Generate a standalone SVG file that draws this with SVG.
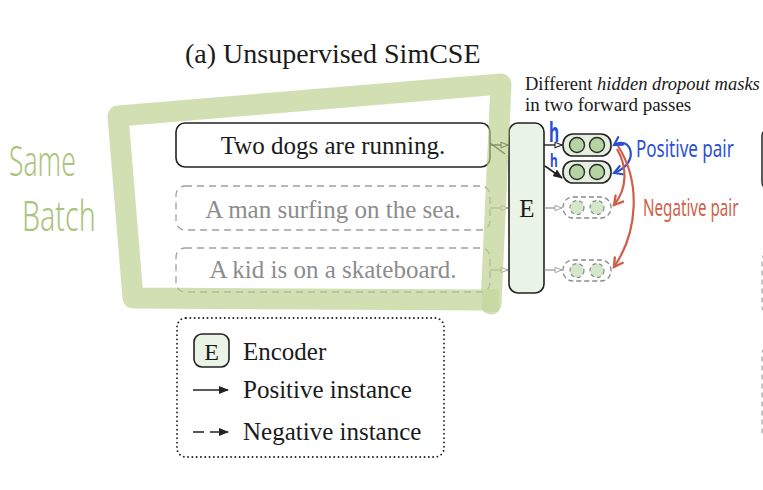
<svg xmlns="http://www.w3.org/2000/svg" width="763" height="490" viewBox="0 0 763 490">
<style>
.serif{font-family:"Liberation Serif","Times New Roman",serif}
.box{fill:#fff;stroke:#222;stroke-width:1.6}
.dbox{fill:#fff;stroke:#a0a0a0;stroke-width:1.3;stroke-dasharray:7 5}
.t{font-size:25px;fill:#1a1a1a;text-anchor:middle}
.g{font-size:25px;fill:#8c8c8c;text-anchor:middle}
.enc{fill:#e9f3e6;stroke:#222;stroke-width:1.6}
.pill{fill:#e3eedf;stroke:#222;stroke-width:1.6}
.dpill{fill:#fff;stroke:#8a8a8a;stroke-width:1.3;stroke-dasharray:5 3}
.dot{fill:#b4d4a3;stroke:#2a2a2a;stroke-width:1.4}
.ddot{fill:#d3e7ca;stroke:#8a8a8a;stroke-width:1.2;stroke-dasharray:4 3}
.hl{fill:none;stroke:#b8ce8a;stroke-opacity:0.65;stroke-linecap:round;stroke-linejoin:round}
.hand{font-family:"Noto Sans","DejaVu Sans",sans-serif}
</style>
<defs>
<marker id="hb" viewBox="0 0 10 8" refX="9" refY="4" markerWidth="9" markerHeight="7" markerUnits="userSpaceOnUse" orient="auto"><path d="M1 1 L9 4 L1 7 Z" fill="#fff" stroke="#222" stroke-width="1.2"/></marker>
<marker id="hg" viewBox="0 0 10 8" refX="9" refY="4" markerWidth="9" markerHeight="7" markerUnits="userSpaceOnUse" orient="auto"><path d="M1 1 L9 4 L1 7 Z" fill="#fff" stroke="#999" stroke-width="1"/></marker>
<marker id="fb" viewBox="0 0 10 8" refX="9" refY="4" markerWidth="10" markerHeight="8" markerUnits="userSpaceOnUse" orient="auto"><path d="M0 0 L10 4 L0 8 Z" fill="#222"/></marker>
<marker id="vb" viewBox="0 0 10 10" refX="8" refY="5" markerWidth="11" markerHeight="11" markerUnits="userSpaceOnUse" orient="auto-start-reverse"><path d="M1 1 L8 5 L1 9" fill="none" stroke="#2a4fd6" stroke-width="2" stroke-linecap="round"/></marker>
<marker id="vr" viewBox="0 0 10 10" refX="8" refY="5" markerWidth="12" markerHeight="12" markerUnits="userSpaceOnUse" orient="auto"><path d="M1 1 L8 5 L1 9" fill="none" stroke="#cf5f4a" stroke-width="2" stroke-linecap="round"/></marker>
</defs>

<text class="serif" x="185" y="63" font-size="28" fill="#1a1a1a">(a) Unsupervised SimCSE</text>

<text class="serif" x="525" y="89.5" font-size="18.5" fill="#1a1a1a">Different <tspan font-style="italic">hidden dropout masks</tspan></text>
<text class="serif" x="525" y="110.5" font-size="19" fill="#1a1a1a">in two forward passes</text>

<g id="s1"><rect class="box" x="176" y="123" width="314" height="44" rx="9"/><text class="serif t" x="333" y="154">Two dogs are running.</text></g>
<g id="s2"><rect class="dbox" x="176" y="186" width="314" height="44" rx="9"/><text class="serif g" x="333" y="218">A man surfing on the sea.</text></g>
<g id="s3"><rect class="dbox" x="176" y="248" width="314" height="44" rx="9"/><text class="serif g" x="333" y="278">A kid is on a skateboard.</text></g>

<g id="encoder"><rect class="enc" x="509" y="123" width="35" height="170" rx="9"/><text class="serif" x="527" y="217" font-size="25" fill="#1a1a1a" text-anchor="middle">E</text></g>

<g id="h1"><rect class="pill" x="563" y="134" width="48" height="22" rx="10"/><circle class="dot" cx="577" cy="145" r="7.5"/><circle class="dot" cx="597" cy="145" r="7.5"/></g>
<g id="h2"><rect class="pill" x="563" y="161" width="48" height="22" rx="10"/><circle class="dot" cx="577" cy="172" r="7.5"/><circle class="dot" cx="597" cy="172" r="7.5"/></g>
<g id="h3"><rect class="dpill" x="563" y="197" width="48" height="21" rx="10"/><circle class="ddot" cx="577" cy="207.5" r="7"/><circle class="ddot" cx="597" cy="207.5" r="7"/></g>
<g id="h4"><rect class="dpill" x="563" y="260" width="48" height="21" rx="10"/><circle class="ddot" cx="577" cy="270.5" r="7"/><circle class="ddot" cx="597" cy="270.5" r="7"/></g>

<g id="connectors">
<line x1="490" y1="145" x2="508" y2="145" stroke="#222" stroke-width="1.4" marker-end="url(#hb)"/>
<line x1="490" y1="143" x2="505" y2="154" stroke="#222" stroke-width="1.4"/>
<line x1="490" y1="208" x2="508" y2="208" stroke="#999" stroke-width="1" marker-end="url(#hg)"/>
<line x1="490" y1="270" x2="508" y2="270" stroke="#999" stroke-width="1" marker-end="url(#hg)"/>
<line x1="544" y1="145" x2="562" y2="145" stroke="#222" stroke-width="1.4" marker-end="url(#hb)"/>
<line x1="545" y1="166" x2="562" y2="178" stroke="#222" stroke-width="1.6" marker-end="url(#fb)"/>
<line x1="544" y1="208" x2="562" y2="208" stroke="#888" stroke-width="1.1" marker-end="url(#hg)"/>
<line x1="544" y1="270" x2="562" y2="270" stroke="#888" stroke-width="1.1" marker-end="url(#hg)"/>
<path d="M614 145 C630 135, 642 162, 614 173" fill="none" stroke="#2a4fd6" stroke-width="2.2" marker-start="url(#vb)" marker-end="url(#vb)"/>
<path d="M617 149 C627 166, 628 188, 614 205" fill="none" stroke="#cf5f4a" stroke-width="2.2" marker-end="url(#vr)"/>
<path d="M618 146 C641 182, 638 232, 614 267" fill="none" stroke="#cf5f4a" stroke-width="2.2" marker-end="url(#vr)"/>
</g>

<g id="annotations">
<text class="hand" transform="translate(549,142) scale(0.6,1)" font-size="26" font-weight="700" fill="#2a4fd6">h</text>
<text class="hand" transform="translate(550,167) scale(0.7,1)" font-size="17" font-weight="700" fill="#2a4fd6">h</text>
<text class="hand" transform="translate(636,157) scale(0.74,1)" font-size="23" fill="#2a4fd6">Positive pair</text>
<text class="hand" transform="translate(643,216) scale(0.66,1)" font-size="23" fill="#cf5f4a">Negative pair</text>
<text class="hand" transform="translate(9,176) scale(0.66,1.05)" font-size="40" font-weight="300" fill="#a9c47b">Same</text>
<text class="hand" transform="translate(22,231) scale(0.68,1)" font-size="42" font-weight="300" fill="#a9c47b">Batch</text>
</g>

<g id="batch-highlight">
<path class="hl" d="M491 304 L501 84 L118 116 L133 298 L490 300" stroke-width="21"/>
<rect x="482" y="289" width="17" height="23" rx="3" fill="#b8ce8a" fill-opacity="0.35"/>
</g>

<g id="legend">
<rect x="177" y="318" width="267" height="139" rx="9" fill="none" stroke="#222" stroke-width="1.8" stroke-dasharray="0.1 4.2" stroke-linecap="round"/>
<rect class="enc" x="194" y="334" width="35" height="33" rx="8"/>
<text class="serif" x="211.5" y="360" font-size="24" fill="#1a1a1a" text-anchor="middle">E</text>
<text class="serif" x="243" y="360" font-size="25" fill="#1a1a1a">Encoder</text>
<line x1="193" y1="390" x2="228" y2="390" stroke="#222" stroke-width="1.5" marker-end="url(#fb)"/>
<text class="serif" x="243" y="398" font-size="25" fill="#1a1a1a">Positive instance</text>
<line x1="193" y1="432" x2="228" y2="432" stroke="#222" stroke-width="1.5" stroke-dasharray="11 6" marker-end="url(#fb)"/>
<text class="serif" x="243" y="440" font-size="25" fill="#1a1a1a">Negative instance</text>
</g>

<g id="next-panel">
<rect x="762" y="128" width="40" height="62" rx="8" fill="none" stroke="#333" stroke-width="1.6"/>
<rect x="762" y="252" width="40" height="62" rx="8" fill="none" stroke="#aaa" stroke-width="1.3" stroke-dasharray="5 4"/>
<rect x="762" y="346" width="40" height="94" rx="8" fill="none" stroke="#aaa" stroke-width="1.3" stroke-dasharray="5 4"/>
</g>
</svg>
